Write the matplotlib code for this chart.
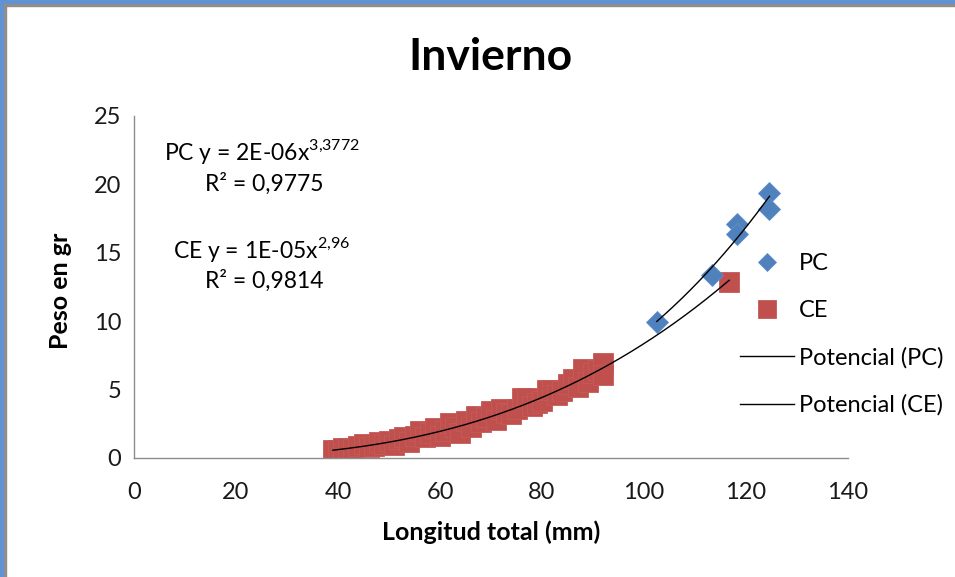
import numpy as np
import matplotlib
matplotlib.use("Agg")
import matplotlib.pyplot as plt
from matplotlib.patches import Rectangle

plt.rcParams['font.family'] = ['Lato', 'DejaVu Sans']

title = "Invierno"
x_label = "Longitud total (mm)"
y_label = "Peso en gr"

pc_x = [102.5, 113.3, 118.3, 118.3, 124.6, 124.6]
pc_y = [9.96, 13.4, 17.1, 16.4, 19.35, 18.2]

ce_x = [39, 40, 41, 42, 43, 44, 45, 46, 47, 48, 49, 50, 51, 52, 53, 54, 55, 56, 57,
        58, 59, 60, 61, 62, 63, 64, 65, 66, 67, 68, 69, 70, 71, 72, 73, 74, 75, 76,
        77, 78, 79, 80, 81, 82, 83, 84, 85, 86, 87, 88, 89, 90, 91, 92, 92, 116.7]
ce_y = [0.6, 0.55, 0.7, 0.75, 0.65, 0.85, 1.0, 0.8, 0.9, 1.2, 1.0, 1.25, 0.95, 1.4,
        1.55, 1.2, 1.6, 1.95, 1.5, 1.85, 2.2, 1.6, 2.0, 2.55, 2.3, 1.8, 2.7, 2.3, 3.1,
        2.6, 3.0, 3.4, 2.8, 3.6, 3.3, 3.2, 3.6, 4.4, 4.4, 3.8, 4.0, 4.2, 5.0, 5.0, 4.6,
        4.9, 5.4, 5.8, 5.2, 6.5, 5.56, 6.2, 6.4, 6.95, 6.05, 12.9]

eq_pc = "PC y = 2E-06x$^{\\mathregular{3{,}3772}}$"
r2_pc = "R² = 0,9775"
eq_ce = "CE y = 1E-05x$^{\\mathregular{2{,}96}}$"
r2_ce = "R² = 0,9814"

x_ticks = [0, 20, 40, 60, 80, 100, 120, 140]
y_ticks = [0, 5, 10, 15, 20, 25]

blue = "#4F81BD"
red = "#C0504D"

W, H = 955, 577
fig = plt.figure(figsize=(W / 100, H / 100), dpi=100)
ax = fig.add_axes([134 / W, 1 - 458 / H, (848 - 134) / W, (458 - 116) / H])

# frame decoration (selection border)
fig.patches.append(Rectangle((0, 1 - 3.5 / H), 1, 3.5 / H, transform=fig.transFigure,
                             color="#5F93D6", zorder=0))
fig.patches.append(Rectangle((0, 1 - 5.5 / H), 1, 2 / H, transform=fig.transFigure,
                             color="#8E8E8E", zorder=0))
fig.patches.append(Rectangle((0, 0), 3.5 / W, 1, transform=fig.transFigure,
                             color="#5F93D6", zorder=0))
fig.patches.append(Rectangle((3.5 / W, 0), 2 / W, 1 - 3.5 / H, transform=fig.transFigure,
                             color="#8E8E8E", zorder=0))

ax.plot(pc_x, pc_y, linestyle="none", marker="D", markersize=11,
        markerfacecolor=blue, markeredgecolor="#5E8FCB", markeredgewidth=0.6,
        label="PC", zorder=3)
ax.plot(ce_x, ce_y, linestyle="none", marker="s", markersize=15,
        markerfacecolor=red, markeredgecolor="#C55A57", markeredgewidth=0.6,
        label="CE", zorder=2)

def power_fit(xs, ys):
    b, ln_a = np.polyfit(np.log(xs), np.log(ys), 1)
    return np.exp(ln_a), b

a1, b1 = power_fit(np.array(pc_x), np.array(pc_y))
a2, b2 = power_fit(np.array(ce_x), np.array(ce_y))
xx1 = np.linspace(min(pc_x), max(pc_x), 200)
xx2 = np.linspace(min(ce_x), max(ce_x), 300)
ax.plot(xx1, a1 * xx1 ** b1, color="black", linewidth=1.0, label="Potencial (PC)", zorder=4)
ax.plot(xx2, a2 * xx2 ** b2, color="black", linewidth=1.0, label="Potencial (CE)", zorder=4)

ax.set_xlim(0, 140)
ax.set_ylim(0, 25)
ax.set_xticks(x_ticks)
ax.set_yticks(y_ticks)
ax.tick_params(length=0, labelsize=17, colors="#1a1a1a")
ax.tick_params(axis="x", pad=17)
ax.tick_params(axis="y", pad=9)
for s in ["top", "right"]:
    ax.spines[s].set_visible(False)
for s in ["left", "bottom"]:
    ax.spines[s].set_color("#8C8C8C")
    ax.spines[s].set_linewidth(1.0)

fig.text(490 / W, 1 - 57 / H, title, ha="center", va="center", fontsize=32, fontweight="bold")
fig.text(491 / W, 1 - 532 / H, x_label, ha="center", va="center", fontsize=18, fontweight="bold")
fig.text(60 / W, 1 - 291 / H, y_label, ha="center", va="center", fontsize=18,
         fontweight="bold", rotation=90)

fs_ann = 16.5
fig.text(262 / W, 1 - 152 / H, eq_pc, ha="center", va="center", fontsize=fs_ann)
fig.text(264 / W, 1 - 184 / H, r2_pc, ha="center", va="center", fontsize=fs_ann)
fig.text(262 / W, 1 - 250 / H, eq_ce, ha="center", va="center", fontsize=fs_ann)
fig.text(264 / W, 1 - 281 / H, r2_ce, ha="center", va="center", fontsize=fs_ann)

leg = fig.legend(loc="upper left", bbox_to_anchor=(740 / W, 1 - 253 / H), frameon=False,
                 fontsize=17, handlelength=2.3, handletextpad=0.2, labelspacing=1.1,
                 borderaxespad=0, borderpad=0, markerscale=0.85)

fig.savefig("out.png", dpi=100, facecolor="white")
